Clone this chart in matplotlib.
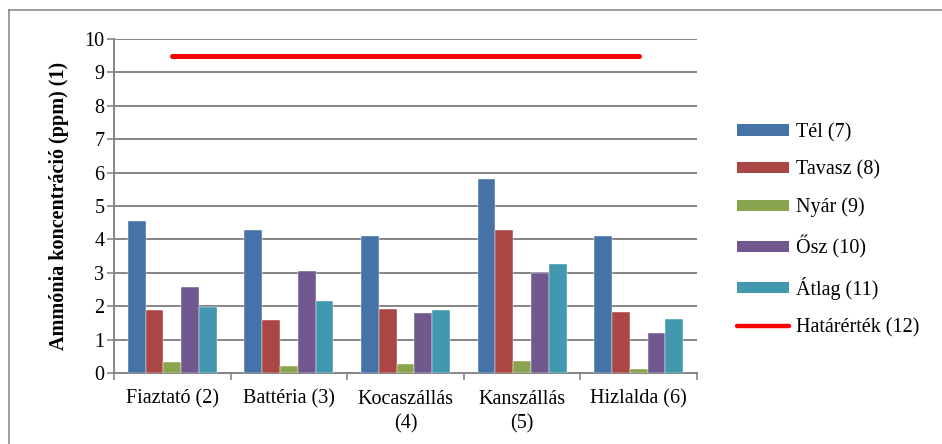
import numpy as np
import matplotlib
matplotlib.use('Agg')
import matplotlib.pyplot as plt
from matplotlib.patches import Patch
from matplotlib.lines import Line2D

plt.rcParams['font.family'] = ['Liberation Serif', 'DejaVu Serif']

categories = ['Fiaztató (2)', 'Battéria (3)', 'Kocaszállás\n(4)', 'Kanszállás\n(5)', 'Hizlalda (6)']
series_names = ['Tél (7)', 'Tavasz (8)', 'Nyár (9)', 'Ősz (10)', 'Átlag (11)']
tel = [4.56, 4.29, 4.10, 5.81, 4.11]
tavasz = [1.88, 1.60, 1.92, 4.28, 1.84]
nyar = [0.33, 0.20, 0.28, 0.37, 0.13]
osz = [2.56, 3.06, 1.81, 2.99, 1.21]
atlag = [1.99, 2.17, 1.88, 3.25, 1.63]
hatarertek = [9.5, 9.5, 9.5, 9.5, 9.5]
limit_name = 'Határérték (12)'

colors = ['#4572A7', '#AA4643', '#89A54E', '#71588F', '#4198AF']
grid_c = '#868686'
fs = 14.5

fig = plt.figure(figsize=(9.42, 4.44), dpi=100)
ax = fig.add_axes([114 / 942, 1 - 373 / 444, (697 - 114) / 942, (373 - 39) / 444])

x = np.arange(len(categories))
w = 0.153
values = [tel, tavasz, nyar, osz, atlag]
handles = []
for i, (vals, name) in enumerate(zip(values, series_names)):
    ax.bar(x + (i - 2) * w, vals, width=w, color=colors[i], zorder=3,
           edgecolor='white', linewidth=0.3)
    handles.append(Patch(facecolor=colors[i], edgecolor='none', label=name))

ax.plot(x, hatarertek, color='#FF0000', linewidth=3.6, solid_capstyle='round', zorder=4)
handles.append(Line2D([0], [0], color='#FF0000', linewidth=3.2,
                      solid_capstyle='round', label=limit_name))

ax.set_xlim(-0.5, len(categories) - 0.5)
ax.set_ylim(0, 10)
ax.set_yticks(range(0, 11))
ax.yaxis.grid(True, color=grid_c, linewidth=1.4, zorder=0)
ax.set_axisbelow(True)

ax.set_xticks(x)
ax.set_xticklabels(categories, fontsize=fs, linespacing=1.4)
ax.set_xticks(np.arange(-0.5, len(categories)), minor=True)
ax.tick_params(axis='x', which='major', length=0, pad=12)
ax.tick_params(axis='x', which='minor', length=5, width=1.2, color=grid_c)
ax.tick_params(axis='y', length=5, width=1.2, color=grid_c, labelsize=fs, pad=2)

for s in ['top', 'right']:
    ax.spines[s].set_visible(False)
for s in ['left', 'bottom']:
    ax.spines[s].set_color(grid_c)
    ax.spines[s].set_linewidth(1.4)

ax.set_ylabel('Ammónia koncentráció (ppm) (1)', fontsize=fs, fontweight='bold', labelpad=11)

ax.legend(handles=handles, loc='center left', bbox_to_anchor=(737 / 942, 1 - 230 / 444),
          bbox_transform=fig.transFigure, frameon=False, fontsize=fs,
          labelspacing=0.9, handlelength=2.6, handletextpad=0.35, handleheight=0.5,
          borderaxespad=0, borderpad=0)

# outer chart frame (top and left edges visible)
fig.add_artist(Line2D([9 / 942, 1], [1 - 10.5 / 444, 1 - 10.5 / 444],
                      transform=fig.transFigure, color='#8C8C8C', linewidth=1.2))
fig.add_artist(Line2D([9 / 942, 9 / 942], [0, 1 - 10.5 / 444],
                      transform=fig.transFigure, color='#8C8C8C', linewidth=1.2))

fig.savefig('out.png', dpi=100)
